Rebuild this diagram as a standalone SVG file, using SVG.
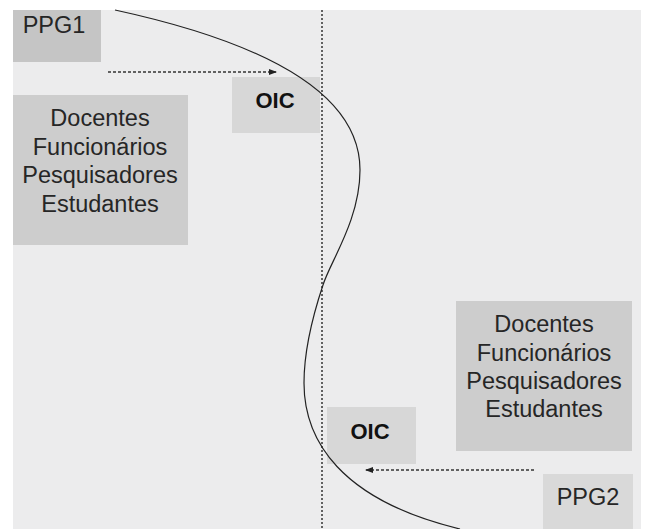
<svg xmlns="http://www.w3.org/2000/svg" width="645" height="529" viewBox="0 0 645 529">
<defs>
<style>
.lbl{font-family:"Liberation Sans",Arial,sans-serif;fill:#262626;text-anchor:middle}
.big{font-size:23.5px}
.oic{font-size:22px;font-weight:bold;fill:#111}
.dot{fill:none;stroke:#333;stroke-width:1.5;stroke-dasharray:3 2}
.vline{fill:none;stroke:#333;stroke-width:1.5;stroke-dasharray:2 2}
.curve{fill:none;stroke:#222;stroke-width:1.2}
</style>
<marker id="ah" viewBox="0 0 8 6" refX="7" refY="3" markerWidth="8" markerHeight="6" markerUnits="userSpaceOnUse" orient="auto">
<path d="M0,0 L8,3 L0,6 Z" fill="#222"/>
</marker>
</defs>
<rect x="0" y="0" width="645" height="529" fill="#ffffff"/>
<rect x="13" y="10" width="628" height="519" fill="#ececed"/>

<g id="ppg1">
<rect x="13" y="10" width="88" height="52" fill="#c5c5c5"/>
<text class="lbl big" x="54" y="33">PPG1</text>
</g>
<g id="docentes1">
<rect x="13" y="95" width="175" height="150" fill="#cdcdcd"/>
<text class="lbl big" x="100" y="126">Docentes</text>
<text class="lbl big" x="100" y="154.5">Funcionários</text>
<text class="lbl big" x="100" y="183">Pesquisadores</text>
<text class="lbl big" x="100" y="211.5">Estudantes</text>
</g>
<g id="oic1">
<rect x="232" y="77" width="88" height="56" fill="#d7d7d7"/>
<text class="lbl oic" x="275" y="108">OIC</text>
</g>
<g id="docentes2">
<rect x="456" y="301" width="176" height="150" fill="#cdcdcd"/>
<text class="lbl big" x="544" y="332">Docentes</text>
<text class="lbl big" x="544" y="360.5">Funcionários</text>
<text class="lbl big" x="544" y="389">Pesquisadores</text>
<text class="lbl big" x="544" y="417">Estudantes</text>
</g>
<g id="oic2">
<rect x="327" y="407" width="89" height="57" fill="#d7d7d7"/>
<text class="lbl oic" x="370" y="439">OIC</text>
</g>
<g id="ppg2">
<rect x="543" y="474" width="90" height="55" fill="#d9d9d9"/>
<text class="lbl big" x="588" y="505">PPG2</text>
</g>

<g id="connectors">
<line class="vline" x1="322" y1="10" x2="322" y2="529"/>
<path class="curve" d="M115,10 C230,35 360,80 360,170 C360,220 330,262 323,285 C312,318 304,350 304,383 C304,440 340,500 460,529"/>
<line class="dot" x1="108" y1="72" x2="276" y2="72" marker-end="url(#ah)"/>
<line class="dot" x1="534" y1="470" x2="366" y2="470" marker-end="url(#ah)"/>
</g>
</svg>
